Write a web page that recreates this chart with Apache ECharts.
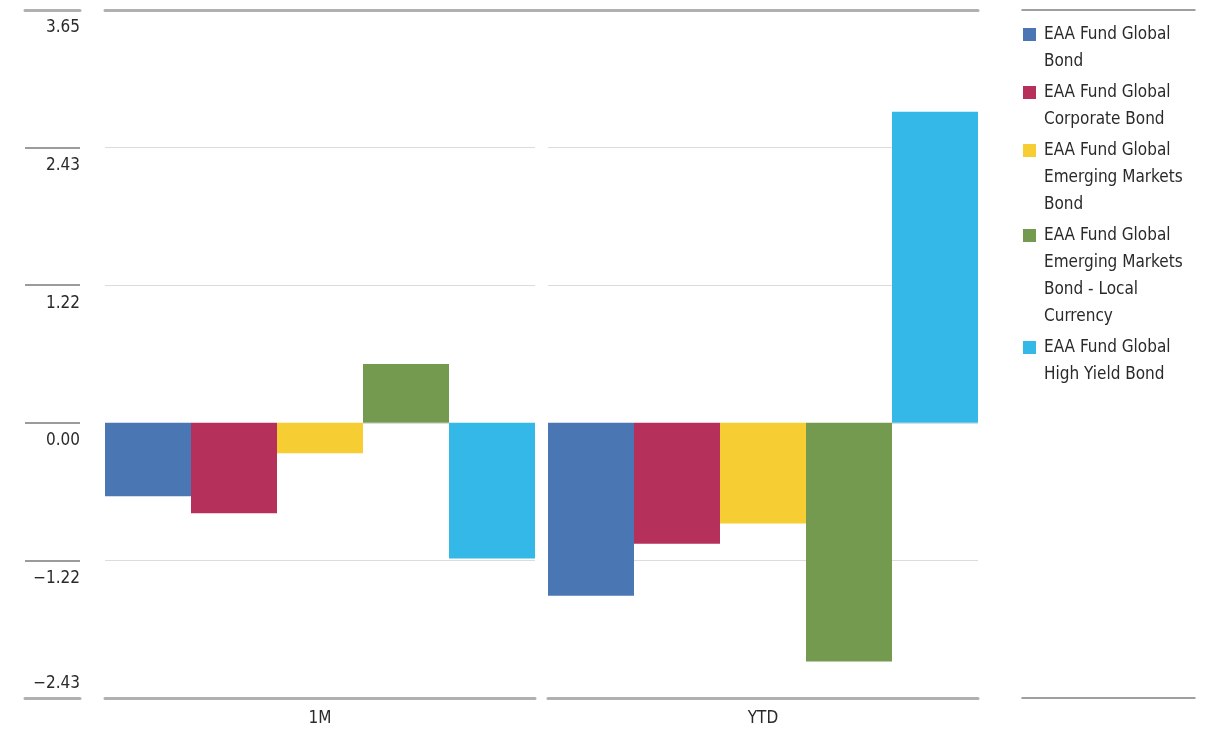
<!DOCTYPE html>
<html>
<head>
<meta charset="utf-8">
<script src="https://cdn.jsdelivr.net/npm/echarts@6/dist/echarts.min.js"></script>
<style>
html,body{margin:0;padding:0;background:#fff;}
#chart{width:1205px;height:739px;}
</style>
</head>
<body>
<div id="chart"></div>
<script>
// ---- data ----
var categories = ['1M', 'YTD'];
var seriesNames = [
  'EAA Fund Global Bond',
  'EAA Fund Global Corporate Bond',
  'EAA Fund Global Emerging Markets Bond',
  'EAA Fund Global Emerging Markets Bond - Local Currency',
  'EAA Fund Global High Yield Bond'
];
var legendLines = [
  ['EAA Fund Global', 'Bond'],
  ['EAA Fund Global', 'Corporate Bond'],
  ['EAA Fund Global', 'Emerging Markets', 'Bond'],
  ['EAA Fund Global', 'Emerging Markets', 'Bond - Local', 'Currency'],
  ['EAA Fund Global', 'High Yield Bond']
];
var globalBond = [-0.65, -1.53];
var corporateBond = [-0.80, -1.07];
var emergingBond = [-0.27, -0.89];
var emergingLocal = [0.52, -2.11];
var highYield = [-1.20, 2.75];
var seriesValues = [globalBond, corporateBond, emergingBond, emergingLocal, highYield];
var colors = ['#4a77b4', '#b5305a', '#f6cd32', '#739a4f', '#33b8e7'];

var interval = 3.65 / 3;
var yMin = -2 * interval;
var yMax = 3 * interval;

var FONT = '"Liberation Sans Narrow", "Arial Narrow", "DejaVu Sans Condensed", sans-serif';
var TEXT = '#2a2a2a';

function fmt(v) {
  return v.toFixed(2).replace('-', '\u2212');
}

var chart = echarts.init(document.getElementById('chart'), null, {renderer: 'canvas'});

var gridTop = 10, gridHeight = 688;

var series = [];
for (var g = 0; g < categories.length; g++) {
  for (var s = 0; s < seriesNames.length; s++) {
    series.push({
      type: 'bar',
      name: seriesNames[s],
      xAxisIndex: g,
      yAxisIndex: g,
      data: [seriesValues[s][g]],
      itemStyle: {color: colors[s]},
      barGap: '0%',
      barCategoryGap: '0%'
    });
  }
}

function lineAxis(gridIndex, position, color, width) {
  return {
    type: 'value', gridIndex: gridIndex, position: position, min: 0, max: 1,
    axisLabel: {show: false}, axisTick: {show: false}, splitLine: {show: false},
    axisLine: {show: true, onZero: false, lineStyle: {color: color, width: width}}
  };
}

function catAxis(gridIndex, cat) {
  return {
    type: 'category', gridIndex: gridIndex, position: 'bottom', data: [cat],
    axisTick: {show: false},
    axisLine: {show: true, onZero: false, lineStyle: {color: '#b0b0b0', width: 3}},
    axisLabel: {color: TEXT, fontFamily: FONT, fontSize: 17, margin: 12}
  };
}

function valAxis(gridIndex) {
  return {
    type: 'value', gridIndex: gridIndex, min: yMin, max: yMax, interval: interval,
    axisLabel: {show: false}, axisTick: {show: false}, axisLine: {show: false},
    splitLine: {show: true, showMinLine: false, showMaxLine: false, lineStyle: {color: '#dcdcdc', width: 1}}
  };
}

var rich = {
  t: {fontFamily: FONT, fontSize: 17, lineHeight: 27, color: TEXT, padding: [0, 0, 0, 8]},
  sp: {width: 13, height: 13, lineHeight: 27}
};
for (var i = 0; i < colors.length; i++) {
  rich['m' + i] = {width: 13, height: 13, lineHeight: 27, backgroundColor: colors[i]};
}

var option = {
  animation: false,
  backgroundColor: '#fff',
  grid: [
    {left: 25, width: 55, top: gridTop, height: gridHeight},   // 0: label column
    {left: 105, width: 430, top: gridTop, height: gridHeight}, // 1: 1M
    {left: 548, width: 430, top: gridTop, height: gridHeight}, // 2: YTD
    {left: 105, width: 873, top: gridTop, height: gridHeight}, // 3: top line
    {left: 1022, width: 173, top: gridTop, height: gridHeight} // 4: legend lines
  ],
  xAxis: [
    catAxis(1, categories[0]),
    catAxis(2, categories[1]),
    lineAxis(0, 'top', '#b0b0b0', 3),
    lineAxis(0, 'bottom', '#b0b0b0', 3),
    lineAxis(3, 'top', '#b0b0b0', 3),
    lineAxis(4, 'top', '#808080', 1.5),
    lineAxis(4, 'bottom', '#808080', 1.5)
  ],
  yAxis: [
    valAxis(1),
    valAxis(2),
    {
      type: 'value', gridIndex: 0, position: 'right', min: yMin, max: yMax, interval: interval,
      axisLine: {show: false}, axisTick: {show: false},
      splitLine: {show: true, showMinLine: false, showMaxLine: false, lineStyle: {color: '#7a7a7a', width: 1.5}},
      axisLabel: {
        show: true, inside: true, margin: 0, showMinLabel: true, showMaxLabel: true,
        fontFamily: FONT, fontSize: 17, color: TEXT,
        formatter: function (v) {
          if (v < yMin + interval / 2) return '{b|' + fmt(v) + '}';
          return '{a|' + fmt(v) + '}';
        },
        rich: {
          a: {fontFamily: FONT, fontSize: 17, color: TEXT, padding: [36, 0, 0, 0]},
          b: {fontFamily: FONT, fontSize: 17, color: TEXT, padding: [0, 0, 28, 0]}
        }
      }
    },
    {type: 'value', gridIndex: 3, show: false, min: 0, max: 1},
    {type: 'value', gridIndex: 4, show: false, min: 0, max: 1}
  ],
  legend: {
    orient: 'vertical',
    left: 1018,
    top: 26,
    padding: 0,
    itemGap: 14,
    itemWidth: 0,
    itemHeight: 0,
    selectedMode: false,
    data: seriesNames,
    textStyle: {fontFamily: FONT, fontSize: 17, color: TEXT, rich: rich},
    formatter: function (name) {
      var idx = seriesNames.indexOf(name);
      return legendLines[idx].map(function (l, j) {
        return (j === 0 ? '{m' + idx + '|}' : '{sp|}') + '{t|' + l + '}';
      }).join('\n');
    }
  },
  series: series
};

chart.setOption(option);
</script>
</body>
</html>
